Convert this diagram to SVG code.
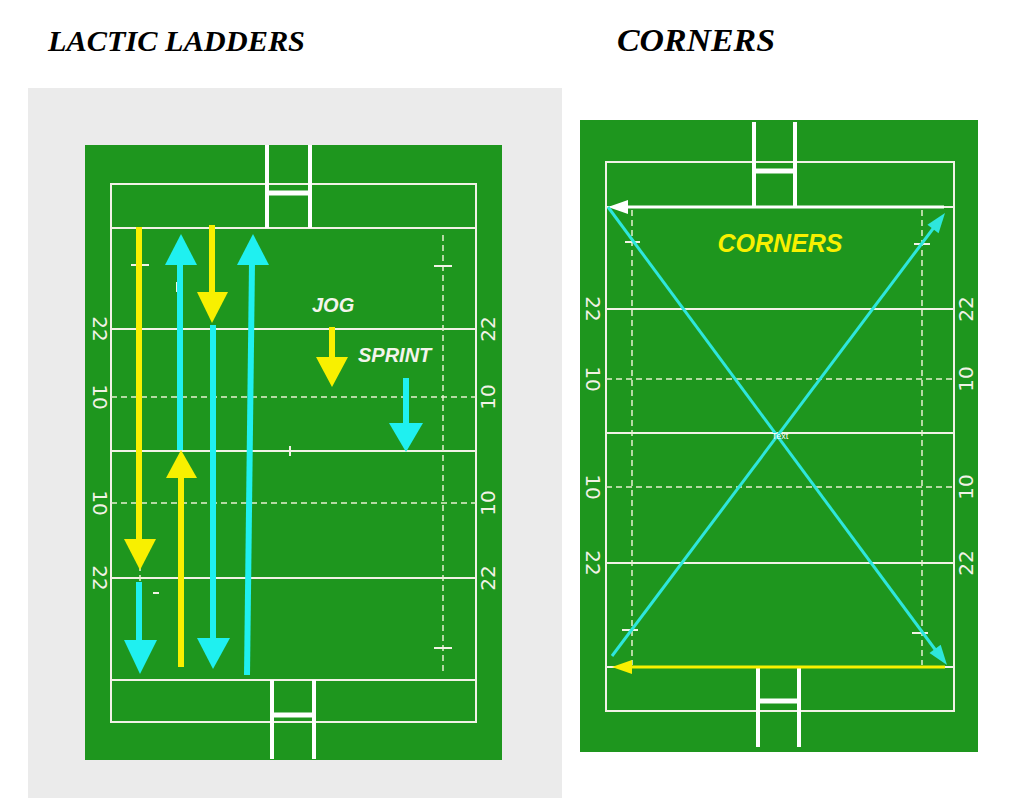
<svg xmlns="http://www.w3.org/2000/svg" width="1024" height="798" viewBox="0 0 1024 798">
<style>
.title{font-family:"Liberation Serif",serif;font-weight:bold;font-style:italic;fill:#000}
.field{fill:#1e961e}
.ln{stroke:#f2f2e6;stroke-width:2;fill:none}
.dash{stroke:#e8f0d0;stroke-width:1.5;fill:none;stroke-dasharray:6,4}
.post{stroke:#ffffff;stroke-width:4;fill:none}
.bar{stroke:#ffffff;stroke-width:5}
.num{font-family:"DejaVu Sans",sans-serif;font-size:20px;fill:#f2f2e6}
.lbl{font-family:"Liberation Sans",Arial,sans-serif;font-weight:bold;font-style:italic}
.ys{stroke:#f8f000;stroke-width:6;fill:none}
.cs{stroke:#1ff0f0;stroke-width:6;fill:none}
.yf{fill:#f8f000}
.cf{fill:#1ff0f0}
.cd{stroke:#2ee6dc;stroke-width:3;fill:none}
</style>
<rect width="1024" height="798" fill="#ffffff"/>
<rect x="28" y="88" width="534" height="710" fill="#ebebeb"/>
<text class="title" x="48" y="51" font-size="30" textLength="257" lengthAdjust="spacingAndGlyphs">LACTIC LADDERS</text>
<text class="title" x="617" y="51" font-size="31" textLength="158" lengthAdjust="spacingAndGlyphs">CORNERS</text>

<g id="left-field">
<rect class="field" x="85" y="145" width="417" height="615"/>
<rect class="ln" x="111" y="184" width="365" height="538"/>
<line class="ln" x1="111" y1="228" x2="476" y2="228"/>
<line class="ln" x1="111" y1="680" x2="476" y2="680"/>
<line class="ln" x1="111" y1="329" x2="476" y2="329"/>
<line class="ln" x1="111" y1="578" x2="476" y2="578"/>
<line class="ln" x1="111" y1="451" x2="476" y2="451"/>
<line class="dash" x1="111" y1="397" x2="476" y2="397"/>
<line class="dash" x1="111" y1="503" x2="476" y2="503"/>
<line class="dash" x1="140" y1="235" x2="140" y2="675"/>
<line class="dash" x1="443" y1="235" x2="443" y2="675"/>
<line class="ln" x1="131" y1="265" x2="149" y2="265"/>
<line class="ln" x1="434" y1="266" x2="452" y2="266"/>
<line class="ln" x1="131" y1="648" x2="149" y2="648"/>
<line class="ln" x1="434" y1="648" x2="452" y2="648"/>
<line class="ln" x1="177" y1="282" x2="177" y2="292"/>
<line class="ln" x1="153" y1="593" x2="159" y2="593"/>
<line class="ln" x1="290" y1="446" x2="290" y2="456" stroke-width="3"/>
<line class="post" x1="267" y1="145" x2="267" y2="228"/>
<line class="post" x1="310" y1="145" x2="310" y2="228"/>
<line class="bar" x1="267" y1="193" x2="310" y2="193"/>
<line class="post" x1="272" y1="680" x2="272" y2="759"/>
<line class="post" x1="314" y1="680" x2="314" y2="759"/>
<line class="bar" x1="272" y1="715" x2="314" y2="715"/>
<text class="num" text-anchor="middle" dominant-baseline="central" transform="translate(100,329) rotate(90)">22</text>
<text class="num" text-anchor="middle" dominant-baseline="central" transform="translate(100,397) rotate(90)">10</text>
<text class="num" text-anchor="middle" dominant-baseline="central" transform="translate(100,503) rotate(90)">10</text>
<text class="num" text-anchor="middle" dominant-baseline="central" transform="translate(100,578) rotate(90)">22</text>
<text class="num" text-anchor="middle" dominant-baseline="central" transform="translate(488,329) rotate(-90)">22</text>
<text class="num" text-anchor="middle" dominant-baseline="central" transform="translate(488,397) rotate(-90)">10</text>
<text class="num" text-anchor="middle" dominant-baseline="central" transform="translate(488,503) rotate(-90)">10</text>
<text class="num" text-anchor="middle" dominant-baseline="central" transform="translate(488,578) rotate(-90)">22</text>
</g>

<g id="legend">
<text class="lbl" x="312" y="312" font-size="20" fill="#f4f4ec">JOG</text>
<text class="lbl" x="358" y="362" font-size="20" fill="#f4f4ec">SPRINT</text>
</g>

<g id="right-field">
<rect class="field" x="580" y="120" width="398" height="632"/>
<rect class="ln" x="606" y="162" width="348" height="549"/>
<line class="ln" x1="606" y1="207" x2="954" y2="207"/>
<line class="ln" x1="606" y1="667" x2="954" y2="667"/>
<line class="ln" x1="606" y1="309" x2="954" y2="309"/>
<line class="ln" x1="606" y1="563" x2="954" y2="563"/>
<line class="ln" x1="606" y1="433" x2="954" y2="433"/>
<line class="dash" x1="606" y1="379" x2="954" y2="379"/>
<line class="dash" x1="606" y1="487" x2="954" y2="487"/>
<line class="dash" x1="632" y1="210" x2="632" y2="665"/>
<line class="dash" x1="922" y1="210" x2="922" y2="665"/>
<line class="ln" x1="625" y1="242" x2="640" y2="242"/>
<line class="ln" x1="914" y1="244" x2="930" y2="244"/>
<line class="ln" x1="622" y1="630" x2="638" y2="630"/>
<line class="ln" x1="912" y1="633" x2="928" y2="633"/>
<line class="post" x1="754" y1="122" x2="754" y2="207"/>
<line class="post" x1="795" y1="122" x2="795" y2="207"/>
<line class="bar" x1="754" y1="171" x2="795" y2="171"/>
<line class="post" x1="758" y1="667" x2="758" y2="747"/>
<line class="post" x1="799" y1="667" x2="799" y2="747"/>
<line class="bar" x1="758" y1="701" x2="799" y2="701"/>
<text class="num" text-anchor="middle" dominant-baseline="central" transform="translate(593,309) rotate(90)">22</text>
<text class="num" text-anchor="middle" dominant-baseline="central" transform="translate(593,379) rotate(90)">10</text>
<text class="num" text-anchor="middle" dominant-baseline="central" transform="translate(593,487) rotate(90)">10</text>
<text class="num" text-anchor="middle" dominant-baseline="central" transform="translate(593,563) rotate(90)">22</text>
<text class="num" text-anchor="middle" dominant-baseline="central" transform="translate(966,309) rotate(-90)">22</text>
<text class="num" text-anchor="middle" dominant-baseline="central" transform="translate(966,379) rotate(-90)">10</text>
<text class="num" text-anchor="middle" dominant-baseline="central" transform="translate(966,487) rotate(-90)">10</text>
<text class="num" text-anchor="middle" dominant-baseline="central" transform="translate(966,563) rotate(-90)">22</text>
<text class="lbl" x="780" y="252" font-size="25" fill="#f8f000" text-anchor="middle">CORNERS</text>
</g>

<g id="connectors">
<line class="ys" x1="139" y1="227" x2="139" y2="541"/>
<polygon class="yf" points="124,539 156,539 140,570"/>
<line class="cs" x1="180" y1="263" x2="180" y2="450"/>
<polygon class="cf" points="165,265 197,265 181,234"/>
<line class="ys" x1="181" y1="476" x2="181" y2="667"/>
<polygon class="yf" points="166,478 197,478 181,450"/>
<line class="ys" x1="212" y1="225" x2="212" y2="294"/>
<polygon class="yf" points="197,292 228,292 212,323"/>
<line class="cs" x1="213" y1="325" x2="213" y2="640"/>
<polygon class="cf" points="197,638 230,638 213,669"/>
<line class="cs" x1="247" y1="675" x2="252" y2="263"/>
<polygon class="cf" points="237,265 269,265 253,234"/>
<line class="cs" x1="139" y1="582" x2="139" y2="642"/>
<polygon class="cf" points="124,640 157,640 140,674"/>
<line class="ys" x1="332" y1="327" x2="332" y2="359"/>
<polygon class="yf" points="316,357 348,357 332,387"/>
<line class="cs" x1="406" y1="378" x2="406" y2="425"/>
<polygon class="cf" points="389,423 423,423 406,452"/>

<line stroke="#ffffff" stroke-width="3" x1="944" y1="207" x2="626" y2="207"/>
<polygon fill="#ffffff" points="608,207 628,200 628,214"/>
<line class="cd" x1="608" y1="207" x2="937" y2="652"/>
<polygon fill="#2ee6dc" points="947,665 929.5,653.1 940.7,644.7"/>
<line class="cd" x1="612" y1="656" x2="935" y2="226"/>
<polygon fill="#2ee6dc" points="945,213 938.6,233.2 927.4,224.8"/>
<line stroke="#f8f000" stroke-width="3" x1="945" y1="667" x2="630" y2="667"/>
<polygon fill="#f8f000" points="612,667 632,660 632,674"/>
</g>
<text x="780" y="439" font-family="Liberation Sans, sans-serif" font-size="9" fill="#ffffff" text-anchor="middle">Text</text>
</svg>
